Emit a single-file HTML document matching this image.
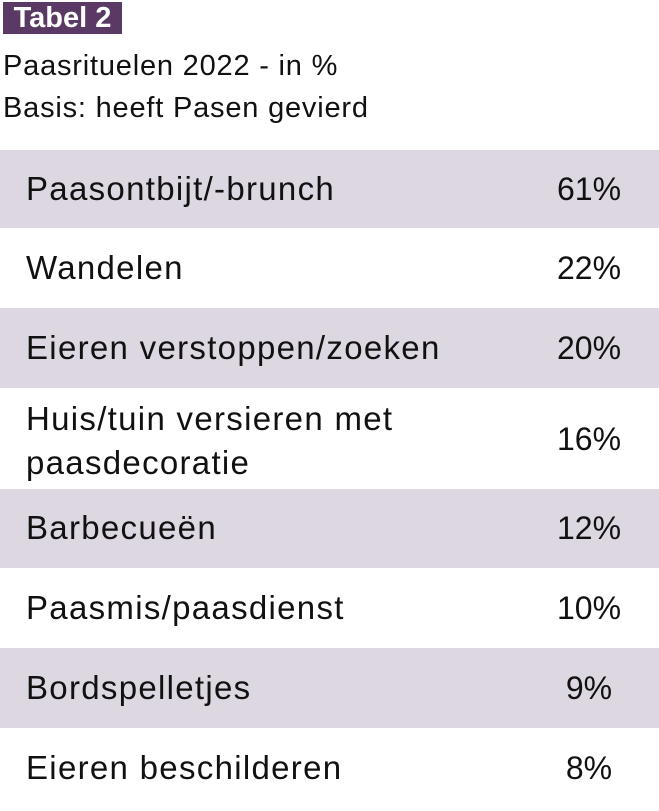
<!DOCTYPE html>
<html><head><meta charset="utf-8"><style>
html,body{margin:0;padding:0;background:#fff;}
body{width:659px;height:811px;position:relative;overflow:hidden;font-family:"Liberation Sans",sans-serif;color:#111;}
.badge{position:absolute;left:3px;top:2px;width:119px;height:32px;background:#5a3a64;color:#fff;font-weight:bold;font-size:29px;line-height:33px;text-align:center;}
.h{position:absolute;left:3px;font-size:29px;letter-spacing:0.8px;}
.row{position:absolute;left:0;width:659px;}
.s{background:#dcd7e0;}
.l{position:absolute;left:26px;font-size:33px;letter-spacing:1.3px;line-height:38px;}
.r{position:absolute;left:540px;width:98px;text-align:center;font-size:32px;line-height:38px;}
</style></head><body>
<div class="badge">Tabel 2</div>
<div class="h" style="top:50px">Paasrituelen 2022 - in %</div>
<div class="h" style="top:92px">Basis: heeft Pasen gevierd</div>

<div class="row s" style="top:150px;height:78px"><div class="l" style="top:20px">Paasontbijt/-brunch</div><div class="r" style="top:20px">61%</div></div>
<div class="row" style="top:228px;height:80px"><div class="l" style="top:21px">Wandelen</div><div class="r" style="top:21px">22%</div></div>
<div class="row s" style="top:308px;height:80px"><div class="l" style="top:21px">Eieren verstoppen/zoeken</div><div class="r" style="top:21px">20%</div></div>
<div class="row" style="top:388px;height:101px"><div class="l" style="top:9px;line-height:44px">Huis/tuin versieren met<br>paasdecoratie</div><div class="r" style="top:32px">16%</div></div>
<div class="row s" style="top:489px;height:79px"><div class="l" style="top:20px">Barbecueën</div><div class="r" style="top:20px">12%</div></div>
<div class="row" style="top:568px;height:80px"><div class="l" style="top:21px">Paasmis/paasdienst</div><div class="r" style="top:21px">10%</div></div>
<div class="row s" style="top:648px;height:80px"><div class="l" style="top:21px">Bordspelletjes</div><div class="r" style="top:21px">9%</div></div>
<div class="row" style="top:728px;height:83px"><div class="l" style="top:21px">Eieren beschilderen</div><div class="r" style="top:21px">8%</div></div>
</body></html>
